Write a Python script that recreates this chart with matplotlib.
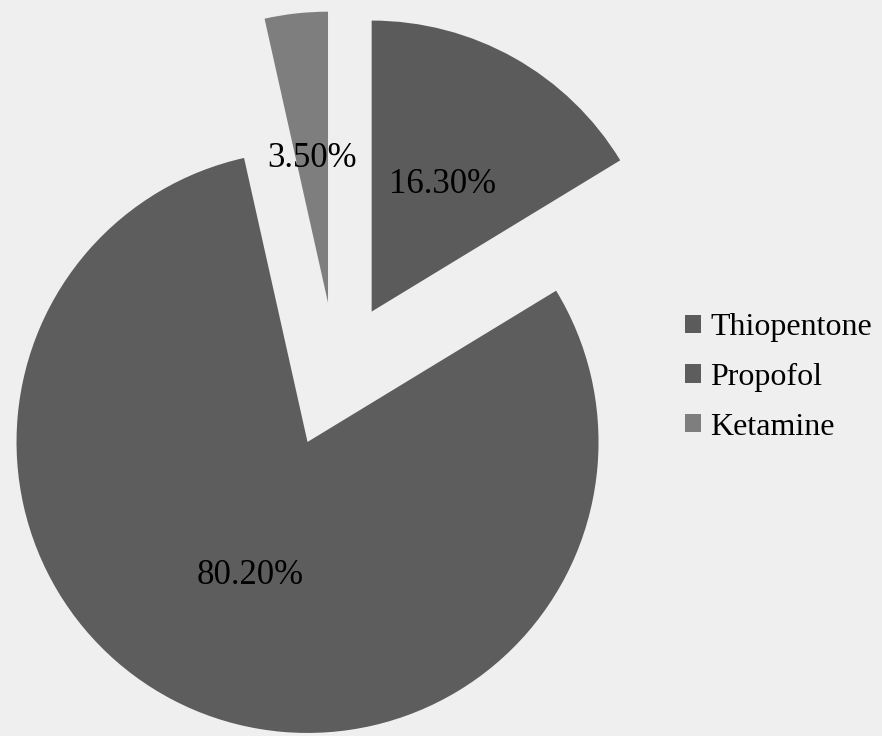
import matplotlib
matplotlib.use("Agg")
import matplotlib.pyplot as plt

categories = ["Thiopentone", "Propofol", "Ketamine"]
values = [16.3, 80.2, 3.5]
colors = ["#5b5b5b", "#5d5d5d", "#7e7e7e"]

plt.rcParams['font.family'] = ['Liberation Serif', 'DejaVu Serif']

W, H = 882, 736
fig = plt.figure(figsize=(W / 100, H / 100), dpi=100, facecolor="#efefef")
ax = fig.add_axes([0, 0, 1, 1])
ax.set_facecolor("#efefef")

R = 291.0
cx, cy = 336.0, 375.0

wedges, texts, autotexts = ax.pie(
    values, colors=colors, startangle=90, counterclock=False,
    explode=[0.25, 0.25, 0.25], radius=1.0,
    autopct=lambda p: f"{p:.2f}%", pctdistance=0.5,
    wedgeprops=dict(linewidth=0),
    textprops=dict(fontsize=25, color="#000000"))

ax.set_xlim(-cx / R, (W - cx) / R)
ax.set_ylim(-(H - cy) / R, cy / R)
ax.set_aspect('equal', adjustable='box')
ax.axis('off')

leg = ax.legend(wedges, categories, loc='upper left',
                bbox_to_anchor=(685 / W, 1 - 313 / H),
                bbox_transform=fig.transFigure,
                frameon=False, fontsize=23,
                handlelength=0.5, handleheight=0.5,
                handletextpad=0.3, labelspacing=0.65,
                borderpad=0, borderaxespad=0)
for t in leg.get_texts():
    t.set_color("#000000")

fig.savefig("out.png", dpi=100, facecolor=fig.get_facecolor())
